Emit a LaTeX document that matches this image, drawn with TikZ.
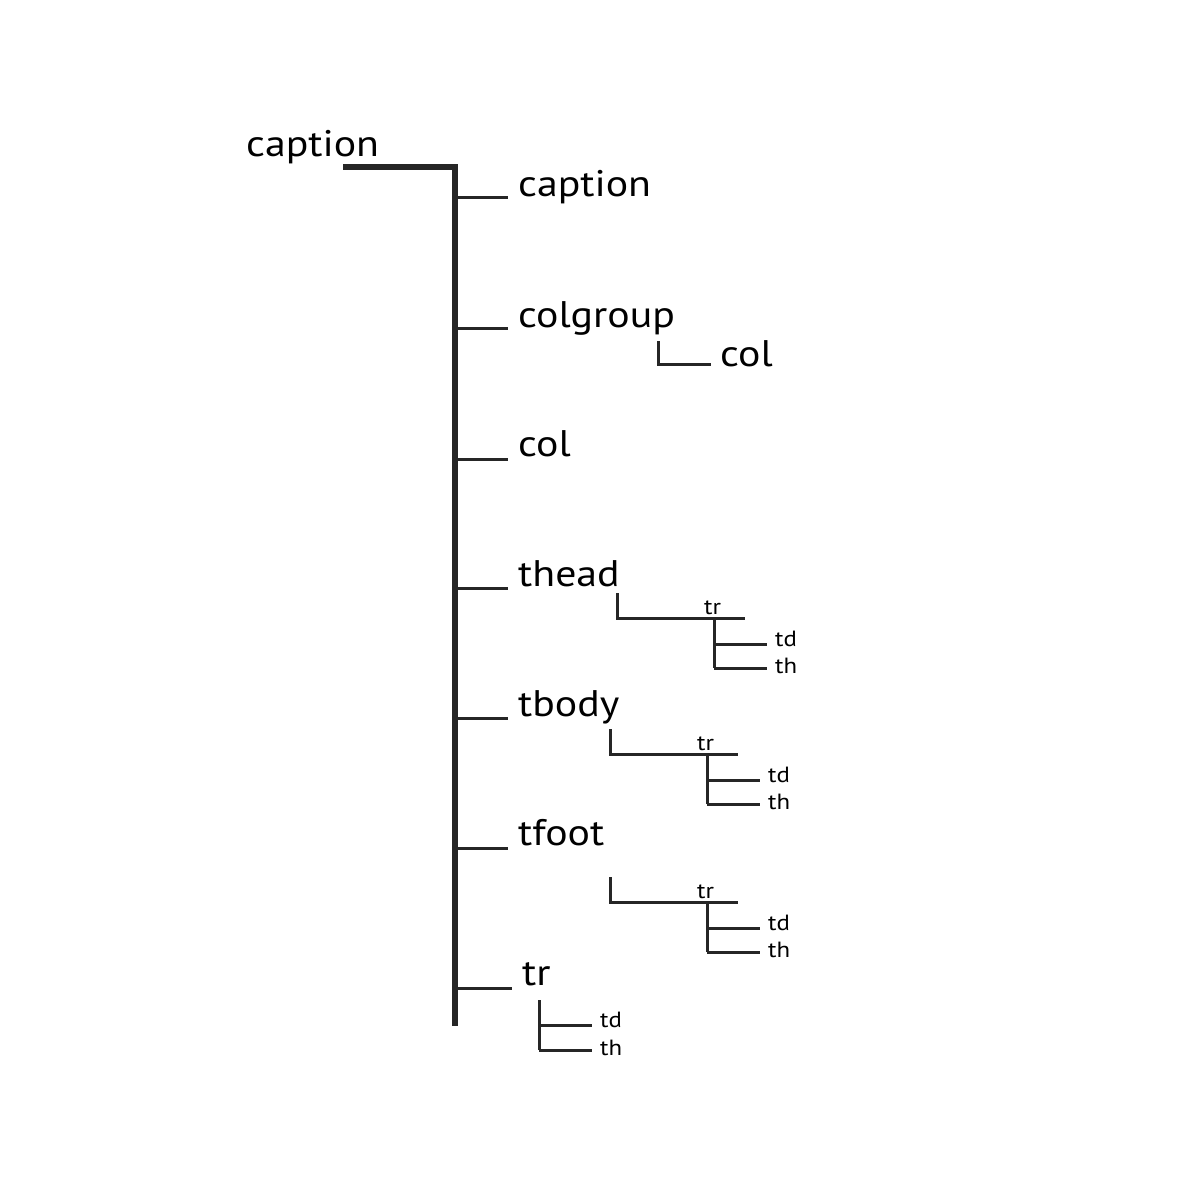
\documentclass[tikz,border=0pt]{standalone}
\usepackage{fontspec}
\setmainfont[FakeStretch=1.13]{PT Sans}
\begin{document}
\begin{tikzpicture}[x=1pt,y=-1pt,
  big/.style={font=\fontsize{37}{40}\selectfont, anchor=base west, inner sep=0pt},
  small/.style={font=\fontsize{22}{24}\selectfont, anchor=base west, inner sep=0pt},
  trunk/.style={line width=6pt, color=black!85},
  br/.style={line width=3pt, color=black!85}]
\useasboundingbox (0,0) rectangle (1182,1182);
\fill[white] (0,0) rectangle (1182,1182);
% helper for tr subtrees (corner at #2,#3)
\newcommand\trsubtree[3]{%
  \coordinate (#1top) at (#2,#3-25);
  \coordinate (#1cor) at (#2,#3);
  \coordinate (#1end) at (#2+128,#3);
  \node[small] (#1tr) at (#2+87,#3-4) {tr};
  \coordinate (#1vt) at (#2+97,#3);
  \coordinate (#1vb) at (#2+97,#3+50);
  \coordinate (#1d) at (#2+97,#3+26);
  \node[small] (#1td) at (#2+158,#3+28) {td};
  \node[small] (#1th) at (#2+158,#3+55) {th};
  \draw[br] (#1top) -- (#1cor) -- (#1end);
  \draw[br] (#1vt) -- (#1vb);
  \draw[br, shorten >=8pt] (#1vb) -- (#1vb -| #1th.west);
  \draw[br, shorten >=8pt] (#1d) -- (#1d -| #1td.west);
}
% root
\node[big] (root) at (246,157) {caption};
\coordinate (rootEnd) at (343,167);
\coordinate (top) at (455,167);
\coordinate (bottom) at (455,1026);
\draw[trunk] (rootEnd) -- (top) -- (bottom);
% children
\node[big] (caption) at (518,197) {caption};
\node[big] (colgroup) at (518,327) {colgroup};
\node[big] (col) at (518,456) {col};
\node[big] (thead) at (518,586) {thead};
\node[big] (tbody) at (518,716) {tbody};
\node[big] (tfoot) at (518,845) {tfoot};
\node[big] (tr) at (522,985) {tr};
\foreach \n/\y in {caption/198,colgroup/328,col/459,thead/588,tbody/718,tfoot/848,tr/988}{
  \coordinate (j\n) at (455,\y);
  \draw[br, shorten >=10pt] (j\n) -- (j\n -| \n.west);
}
% colgroup > col
\coordinate (cgtop) at (658,341);
\node[big] (col2) at (720,366) {col};
\coordinate (cgcor) at (658,364);
\draw[br, shorten >=9pt] (cgtop) -- (cgcor) -- (cgcor -| col2.west);
% tr subtrees
\trsubtree{a}{617}{618}
\trsubtree{b}{610}{754}
\trsubtree{c}{610}{902}
% tr > td, th
\coordinate (rtop) at (539,1000);
\coordinate (rd) at (539,1025);
\coordinate (rb) at (539,1050);
\node[small] (rtd) at (600,1027) {td};
\node[small] (rth) at (600,1055) {th};
\draw[br] (rtop) -- (rb);
\draw[br, shorten >=8pt] (rd) -- (rd -| rtd.west);
\draw[br, shorten >=8pt] (rb) -- (rb -| rth.west);
\end{tikzpicture}
\end{document}
